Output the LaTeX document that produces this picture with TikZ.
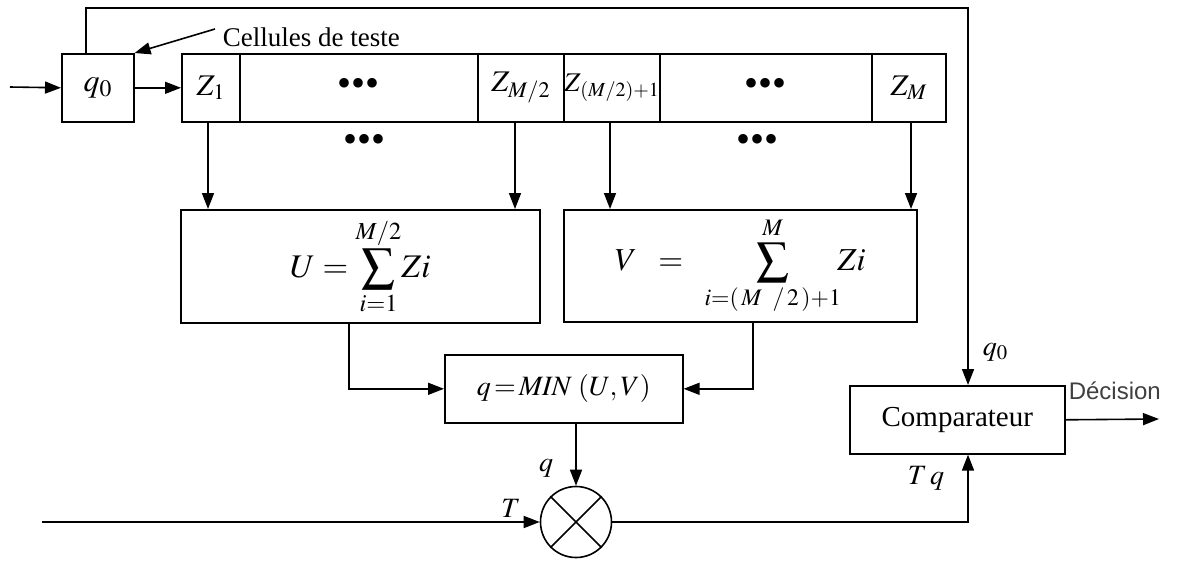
\documentclass[tikz,border=0pt]{standalone}
\usepackage{amsmath}
\usepackage{mathptmx}
\usepackage{fontspec}
\setmainfont{Liberation Serif}
\newfontfamily\dsans{Liberation Sans}
\usetikzlibrary{arrows.meta}
\newcommand{\fsz}[1]{\fontsize{#1}{#1}\selectfont}
\begin{document}
\begin{tikzpicture}[x=1pt,y=-1pt,
  line width=1.6pt,
  arr/.style={-{Triangle[length=16pt,width=12pt]}},
  box/.style={draw, line width=1.6pt, inner sep=0pt, anchor=north west},
  lbl/.style={inner sep=0pt}
]
\useasboundingbox (0,0) rectangle (1182,560);

% q0 box
\node[box, minimum width=72pt, minimum height=68pt, font=\fsz{32}] (q0) at (61,53) {$q_0$};

% register cells
\node[box, minimum width=58pt, minimum height=68pt, font=\fsz{30}] (z1) at (181,53) {$Z_1$};
\node[box, minimum width=238pt, minimum height=68pt, font=\fsz{40}] (d1) at (239,53) {\textbullet\textbullet\textbullet};
\node[box, minimum width=86pt, minimum height=68pt, font=\fsz{30}] (zm2) at (477,53) {$Z_{M/2}$};
\node[box, minimum width=96pt, minimum height=68pt, font=\fsz{27}] (zm21) at (563,53) {\makebox[92pt]{$Z_{\mkern1mu(M/2)+1}$}};
\node[box, minimum width=212pt, minimum height=68pt, font=\fsz{40}] (d2) at (659,53) {\textbullet\textbullet\textbullet};
\node[box, minimum width=74pt, minimum height=68pt, font=\fsz{30}] (zm) at (871,53) {$Z_M$};

% sums
\node[box, minimum width=359pt, minimum height=113pt, font=\fsz{33}] (U) at (180,209) {$U=\displaystyle\sum_{i=1}^{M/2}\!Zi$\hspace{24pt}};
\node[box, minimum width=353pt, minimum height=112pt, font=\fsz{32}] (V) at (563,209) {$V\;\;=\;\;\displaystyle\sum_{i=(\,M\;\;/\,2\,)+1}^{M}\!\!Zi$\hspace{14pt}};

% dots between arrows
\node[lbl, font=\fsz{40}] (d3) at (365,143) {\textbullet\textbullet\textbullet};
\node[lbl, font=\fsz{40}] (d4) at (757,143) {\textbullet\textbullet\textbullet};

% MIN box
\node[box, minimum width=238pt, minimum height=68pt, font=\fsz{28}] (MIN) at (444,354) {$q\!=\!\mathit{MIN}\;(U,V)$};

% multiplier
\node[draw, circle, minimum size=71pt, inner sep=0pt] (mul) at (576,522) {};
\draw (mul.45) -- (mul.225) (mul.135) -- (mul.315);

% comparator
\node[box, minimum width=215pt, minimum height=68pt, font=\fsz{29}] (comp) at (849,385) {Comparateur};

% coordinates
\coordinate (inA) at (10,87);
\coordinate (fbA) at (86,8);
\coordinate (fbB) at (968,8);
\coordinate (a1) at (208,0);
\coordinate (a2) at (515,0);
\coordinate (a3) at (610,0);
\coordinate (a4) at (911,0);
\coordinate (b1) at (349,0);
\coordinate (b2) at (753,0);
\coordinate (tin) at (42,522);
\coordinate (dec) at (1159,419);
\coordinate (cs) at (215,29);

% connectors
\draw[arr] (inA) -- (q0.west);
\draw[arr] (q0.east) -- (z1.west);
\draw[arr] (q0.north -| fbA) -- (fbA) -- (fbB) -- (fbB |- comp.north);
\draw[arr] (a1 |- z1.south) -- (a1 |- U.north);
\draw[arr] (a2 |- zm2.south) -- (a2 |- U.north);
\draw[arr] (a3 |- zm21.south) -- (a3 |- V.north);
\draw[arr] (a4 |- zm.south) -- (a4 |- V.north);
\draw[arr] (b1 |- U.south) |- (MIN.west);
\draw[arr] (b2 |- V.south) |- (MIN.east);
\draw[arr] (mul.north |- MIN.south) -- (mul.north);
\draw[arr] (tin) -- (mul.west);
\draw[arr] (mul.east) -| (fbB |- comp.south);
\draw[arr] (comp.east) -- (dec);

% Cellules de teste
\node[lbl, anchor=base west, font=\fsz{27}] (cel) at (222,46) {Cellules de teste};
\draw[arr] (cs) -- (q0.north east);

% labels
\node[lbl, anchor=west, font=\fsz{28}] (lq0) at (982,352) {$q_0$};
\node[lbl, font=\fsz{28}] (ltq) at (926,478) {$T\,q$};
\node[lbl, font=\fsz{28}] (lq) at (546,468) {$q$};
\node[lbl, font=\fsz{28}] (lT) at (511,508) {$T$};
\node[lbl, anchor=base west, font={\dsans\fsz{24}}, text=black!75] (ldec) at (1068,399) {Décision};
\end{tikzpicture}
\end{document}
